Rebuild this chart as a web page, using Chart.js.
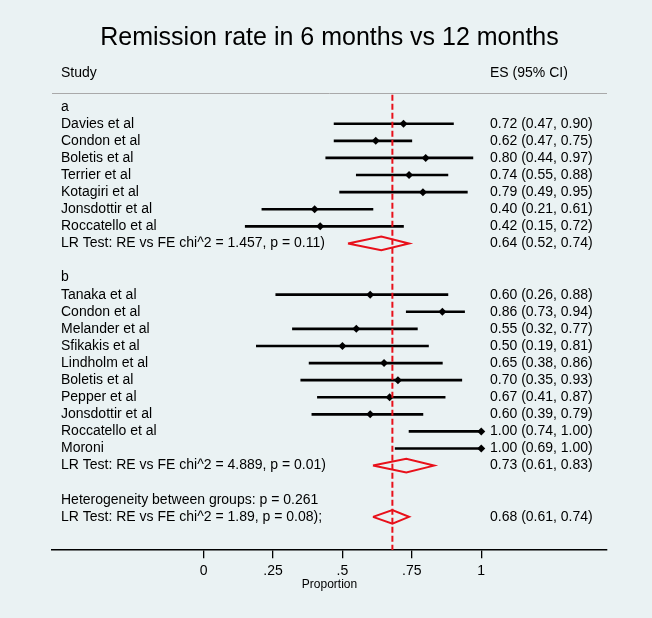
<!DOCTYPE html>
<html>
<head>
<meta charset="utf-8">
<script src="https://cdn.jsdelivr.net/npm/chart.js@4"></script>
<style>
  html, body { margin: 0; padding: 0; background: #eaf2f3; }
  #wrap { width: 652px; height: 618px; }
</style>
</head>
<body>
<div id="wrap"><canvas id="myChart" width="652" height="618"></canvas></div>
<script>
// group a
var studiesA = ['Davies et al', 'Condon et al', 'Boletis et al', 'Terrier et al', 'Kotagiri et al', 'Jonsdottir et al', 'Roccatello et al']
var esA = [0.72, 0.62, 0.80, 0.74, 0.79, 0.40, 0.42]
var loA = [0.47, 0.47, 0.44, 0.55, 0.49, 0.21, 0.15]
var hiA = [0.90, 0.75, 0.97, 0.88, 0.95, 0.61, 0.72]

// group b
var studiesB = ['Tanaka et al', 'Condon et al', 'Melander et al', 'Sfikakis et al', 'Lindholm et al', 'Boletis et al', 'Pepper et al', 'Jonsdottir et al', 'Roccatello et al', 'Moroni']
var esB = [0.60, 0.86, 0.55, 0.50, 0.65, 0.70, 0.67, 0.60, 1.00, 1.00]
var loB = [0.26, 0.73, 0.32, 0.19, 0.38, 0.35, 0.41, 0.39, 0.74, 0.69]
var hiB = [0.88, 0.94, 0.77, 0.81, 0.86, 0.93, 0.87, 0.79, 1.00, 1.00]

// pooled (a, b, overall)
var pooledText = ['LR Test: RE vs FE chi^2 = 1.457, p = 0.11)', 'LR Test: RE vs FE chi^2 = 4.889, p = 0.01)', 'LR Test: RE vs FE chi^2 = 1.89, p = 0.08);']
var pooledEs = [0.64, 0.73, 0.68]
var pooledLo = [0.52, 0.61, 0.61]
var pooledHi = [0.74, 0.83, 0.74]
var hetText = 'Heterogeneity between groups: p = 0.261'

var tickValues = [0, 0.25, 0.5, 0.75, 1]
var tickLabels = ['0', '.25', '.5', '.75', '1']

// row layout
var rows = []
rows.push({text: 'a'})
for (var i = 0; i < studiesA.length; i++) rows.push({text: studiesA[i], es: esA[i], lo: loA[i], hi: hiA[i]})
rows.push({text: pooledText[0], es: pooledEs[0], lo: pooledLo[0], hi: pooledHi[0], pooled: true})
rows.push({text: ''})
rows.push({text: 'b'})
for (var i = 0; i < studiesB.length; i++) rows.push({text: studiesB[i], es: esB[i], lo: loB[i], hi: hiB[i]})
rows.push({text: pooledText[1], es: pooledEs[1], lo: pooledLo[1], hi: pooledHi[1], pooled: true})
rows.push({text: ''})
rows.push({text: hetText})
rows.push({text: pooledText[2], es: pooledEs[2], lo: pooledLo[2], hi: pooledHi[2], pooled: true})

var ciData = []
var pointData = []
var diamonds = []
rows.forEach(function (r, idx) {
    if (r.es === undefined) return
    if (r.pooled) {
        var h = 0.4
        diamonds.push([
            {x: r.lo, y: idx}, {x: r.es, y: idx - h}, {x: r.hi, y: idx},
            {x: r.es, y: idx + h}, {x: r.lo, y: idx}
        ])
    } else {
        ciData.push({y: idx, x: [r.lo, r.hi]})
        pointData.push({x: r.es, y: idx})
    }
})

var yMin = -0.8
var yMax = 25.95
var overall = pooledEs[2]

function fmt(r) {
    return r.es.toFixed(2) + ' (' + r.lo.toFixed(2) + ', ' + r.hi.toFixed(2) + ')'
}

var FONT = '"Liberation Sans", Arial, sans-serif'
Chart.defaults.font.family = FONT
Chart.defaults.color = '#000'

var textPlugin = {
    id: 'forestText',
    beforeDraw: function (chart) {
        var c = chart.ctx
        c.save()
        c.fillStyle = '#eaf2f3'
        c.fillRect(0, 0, chart.width, chart.height)
        c.restore()
    },
    afterDraw: function (chart) {
        var c = chart.ctx
        var a = chart.chartArea
        var y = chart.scales.y
        c.save()
        c.fillStyle = '#000'
        c.textBaseline = 'middle'
        // title
        c.font = '25px ' + FONT
        c.textAlign = 'center'
        c.fillText('Remission rate in 6 months vs 12 months', (a.left + a.right) / 2, 38)
        // header
        c.font = '14px ' + FONT
        c.textAlign = 'left'
        c.fillText('Study', a.left + 9, a.top - 20)
        c.fillText('ES (95% CI)', a.left + 438, a.top - 20)
        // separator
        c.strokeStyle = '#a9a9a9'
        c.lineWidth = 1
        c.beginPath()
        c.moveTo(a.left, a.top + 0.5)
        c.lineTo(a.right, a.top + 0.5)
        c.stroke()
        // rows
        rows.forEach(function (r, idx) {
            var py = y.getPixelForValue(idx)
            if (r.text) c.fillText(r.text, a.left + 9, py)
            if (r.es !== undefined) c.fillText(fmt(r), a.left + 438, py)
        })
        // axis title
        c.font = '12px ' + FONT
        c.textAlign = 'center'
        c.fillText('Proportion', (a.left + a.right) / 2, a.bottom + 34)
        c.restore()
    }
}

var datasets = [
    {
        type: 'line',
        data: [{x: overall, y: yMin + 0.1}, {x: overall, y: yMax}],
        borderColor: '#e8101a',
        borderWidth: 2,
        borderDash: [6, 3],
        pointRadius: 0,
        fill: false
    },
    {
        type: 'bar',
        indexAxis: 'y',
        data: ciData,
        backgroundColor: '#000',
        barThickness: 2,
        grouped: false
    },
    {
        type: 'scatter',
        data: pointData,
        pointStyle: 'rectRot',
        pointRadius: 4,
        backgroundColor: '#000',
        borderColor: '#000',
        borderWidth: 0
    }
]
diamonds.forEach(function (d) {
    datasets.push({
        type: 'line',
        data: d,
        borderColor: '#e8101a',
        borderWidth: 2,
        pointRadius: 0,
        fill: false,
        tension: 0
    })
})

var ctx = document.getElementById('myChart')
var chart = new Chart(ctx, {
    type: 'scatter',
    data: {datasets: datasets},
    options: {
        responsive: false,
        animation: false,
        layout: {padding: {top: 93, left: 52, right: 45, bottom: 33}},
        plugins: {
            legend: {display: false},
            title: {display: false},
            tooltip: {enabled: false}
        },
        scales: {
            x: {
                type: 'linear',
                min: -0.546,
                max: 1.453,
                offset: false,
                afterBuildTicks: function (axis) {
                    axis.ticks = tickValues.map(function (v) { return {value: v} })
                },
                ticks: {
                    padding: 5,
                    font: {size: 14},
                    color: '#000',
                    maxRotation: 0,
                    autoSkip: false,
                    callback: function (v) {
                        var k = tickValues.indexOf(v)
                        return k >= 0 ? tickLabels[k] : ''
                    }
                },
                grid: {drawOnChartArea: false, drawTicks: true, tickLength: 8, color: '#000', lineWidth: 1.3},
                border: {display: true, color: '#000', width: 1.5}
            },
            y: {
                type: 'linear',
                display: false,
                reverse: true,
                min: yMin,
                max: yMax,
                offset: false
            }
        }
    },
    plugins: [textPlugin]
})
</script>
</body>
</html>
